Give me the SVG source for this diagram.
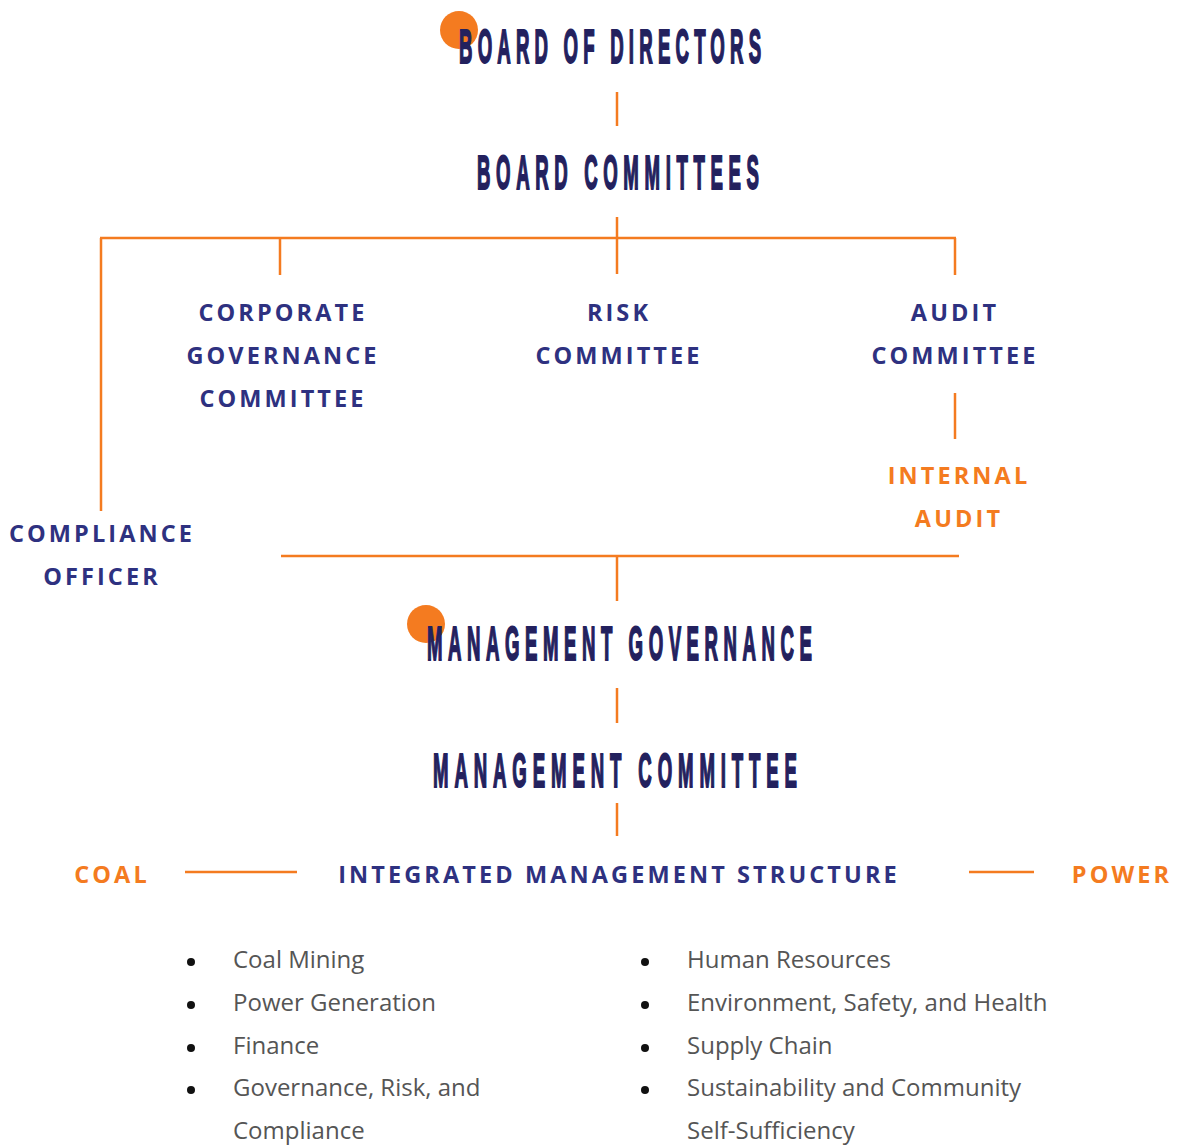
<svg xmlns="http://www.w3.org/2000/svg" width="1177" height="1145" viewBox="0 0 1177 1145">
<style>
.ln{stroke:#f47b20;stroke-width:2.5;fill:none}
.hd{font-family:"Liberation Sans",Arial,sans-serif;font-weight:bold;fill:#23215e;stroke:#23215e;stroke-width:2;font-size:49px}
.lb{font-family:"Open Sans","Noto Sans",sans-serif;font-weight:bold;font-size:23.5px;letter-spacing:3.1px;fill:#2e3180;text-anchor:middle}
.or{fill:#f47b20}
.li{font-family:"Open Sans","Noto Sans",sans-serif;font-size:24px;fill:#555}
.dot{fill:#111}
</style>
<rect width="1177" height="1145" fill="#fff"/>
<g id="connectors">
<line class="ln" x1="617" y1="92" x2="617" y2="126"/>
<line class="ln" x1="617" y1="217" x2="617" y2="274"/>
<line class="ln" x1="100" y1="238" x2="956" y2="238"/>
<line class="ln" x1="280" y1="238" x2="280" y2="275"/>
<line class="ln" x1="955" y1="238" x2="955" y2="275"/>
<line class="ln" x1="101" y1="238" x2="101" y2="511"/>
<line class="ln" x1="955" y1="393" x2="955" y2="439"/>
<line class="ln" x1="281" y1="556" x2="959" y2="556"/>
<line class="ln" x1="617" y1="556" x2="617" y2="601"/>
<line class="ln" x1="617" y1="688" x2="617" y2="723"/>
<line class="ln" x1="617" y1="803" x2="617" y2="836"/>
<line class="ln" x1="185" y1="872" x2="297" y2="872"/>
<line class="ln" x1="969" y1="872" x2="1034" y2="872"/>
</g>
<g id="board">
<circle cx="459" cy="30" r="19" fill="#f47b20"/>
<text class="hd" transform="translate(459,63) scale(0.38,1)" textLength="795" lengthAdjust="spacing">BOARD OF DIRECTORS</text>
</g>
<g id="committees">
<text class="hd" transform="translate(477,189) scale(0.38,1)" textLength="742" lengthAdjust="spacing">BOARD COMMITTEES</text>
</g>
<g id="cgc">
<text class="lb" x="283" y="321">CORPORATE</text>
<text class="lb" x="283" y="364">GOVERNANCE</text>
<text class="lb" x="283" y="407">COMMITTEE</text>
</g>
<g id="risk">
<text class="lb" x="619" y="321">RISK</text>
<text class="lb" x="619" y="364">COMMITTEE</text>
</g>
<g id="audit">
<text class="lb" x="955" y="321">AUDIT</text>
<text class="lb" x="955" y="364">COMMITTEE</text>
</g>
<g id="internal-audit">
<text class="lb or" x="959" y="484">INTERNAL</text>
<text class="lb or" x="959" y="527">AUDIT</text>
</g>
<g id="compliance">
<text class="lb" x="102" y="542">COMPLIANCE</text>
<text class="lb" x="102" y="585">OFFICER</text>
</g>
<g id="mgmt-gov">
<circle cx="426" cy="624" r="19" fill="#f47b20"/>
<text class="hd" transform="translate(427,660) scale(0.38,1)" textLength="1013" lengthAdjust="spacing">MANAGEMENT GOVERNANCE</text>
</g>
<g id="mgmt-com">
<text class="hd" transform="translate(433,787) scale(0.38,1)" textLength="958" lengthAdjust="spacing">MANAGEMENT COMMITTEE</text>
</g>
<g id="coal">
<text class="lb or" x="112" y="883">COAL</text>
</g>
<g id="ims">
<text class="lb" x="619" y="883">INTEGRATED MANAGEMENT STRUCTURE</text>
</g>
<g id="power">
<text class="lb or" x="1122" y="883">POWER</text>
</g>
<g id="list-left">
<circle class="dot" cx="191" cy="962" r="4"/>
<circle class="dot" cx="191" cy="1005" r="4"/>
<circle class="dot" cx="191" cy="1048" r="4"/>
<circle class="dot" cx="191" cy="1090" r="4"/>
<text class="li" x="233" y="968">Coal Mining</text>
<text class="li" x="233" y="1011">Power Generation</text>
<text class="li" x="233" y="1054">Finance</text>
<text class="li" x="233" y="1096">Governance, Risk, and</text>
<text class="li" x="233" y="1139">Compliance</text>
</g>
<g id="list-right">
<circle class="dot" cx="645" cy="962" r="4"/>
<circle class="dot" cx="645" cy="1005" r="4"/>
<circle class="dot" cx="645" cy="1048" r="4"/>
<circle class="dot" cx="645" cy="1090" r="4"/>
<text class="li" x="687" y="968">Human Resources</text>
<text class="li" x="687" y="1011">Environment, Safety, and Health</text>
<text class="li" x="687" y="1054">Supply Chain</text>
<text class="li" x="687" y="1096">Sustainability and Community</text>
<text class="li" x="687" y="1139">Self-Sufficiency</text>
</g>
</svg>
